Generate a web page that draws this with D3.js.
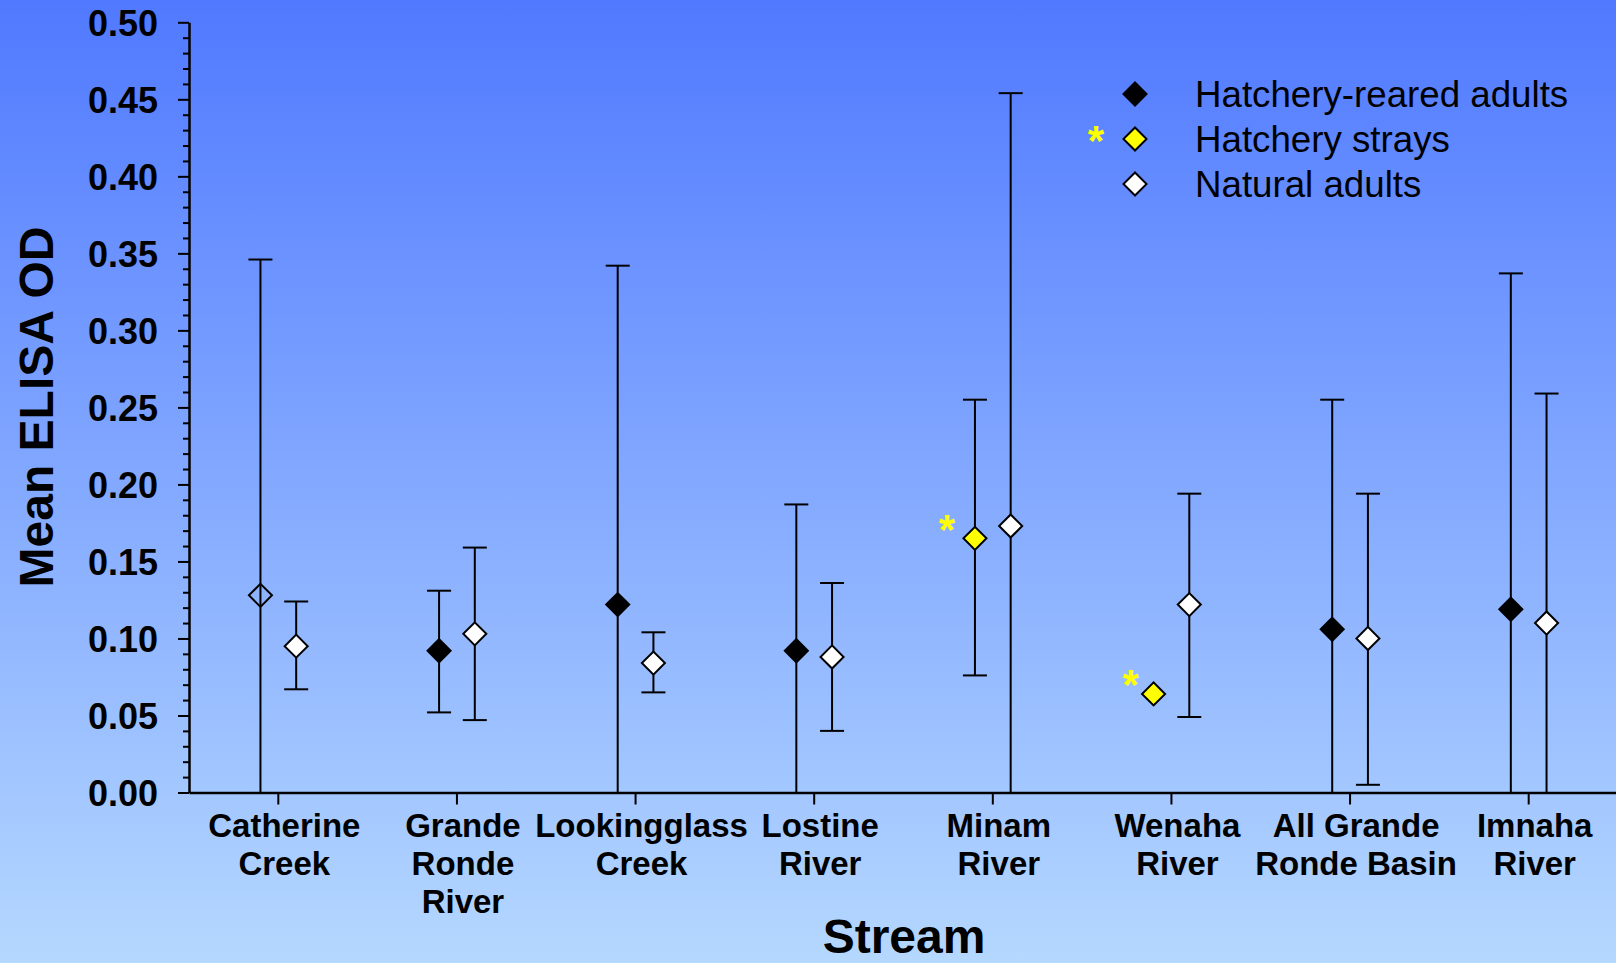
<!DOCTYPE html>
<html>
<head>
<meta charset="utf-8">
<script src="https://cdn.jsdelivr.net/npm/d3@7/dist/d3.min.js"></script>
<style>
  html, body { margin: 0; padding: 0; overflow: hidden; }
  svg { display: block; font-family: "Liberation Sans", Arial, Helvetica, sans-serif; }
</style>
</head>
<body>
<svg id="chart" width="1616" height="963"></svg>
<script>
// Streams sampled (axis categories, shown on two or three lines)
const categories = [
  "Catherine Creek", "Grande Ronde River", "Lookingglass Creek", "Lostine River",
  "Minam River", "Wenaha River", "All Grande Ronde Basin", "Imnaha River"
];
const categoryLines = [
  ["Catherine", "Creek"], ["Grande", "Ronde", "River"], ["Lookingglass", "Creek"],
  ["Lostine", "River"], ["Minam", "River"], ["Wenaha", "River"],
  ["All Grande", "Ronde Basin"], ["Imnaha", "River"]
];

// Hatchery-reared adults: mean ELISA OD with error-bar limits
const hatcheryMean = [0.128, 0.092, 0.122, 0.092, null, null, 0.106, 0.119];
const hatcheryLow  = [0.000, 0.052, 0.000, 0.000, null, null, 0.000, 0.000];
const hatcheryHigh = [0.346, 0.131, 0.342, 0.187, null, null, 0.255, 0.337];

// Hatchery strays (marked with an asterisk)
const strayMean = [null, null, null, null, 0.165, 0.064, null, null];
const strayLow  = [null, null, null, null, 0.076, null, null, null];
const strayHigh = [null, null, null, null, 0.255, null, null, null];

// Natural adults
const naturalMean = [0.095, 0.103, 0.084, 0.088, 0.173, 0.122, 0.100, 0.110];
const naturalLow  = [0.067, 0.047, 0.065, 0.040, 0.000, 0.049, 0.005, 0.000];
const naturalHigh = [0.124, 0.159, 0.104, 0.136, 0.454, 0.194, 0.194, 0.259];

const yMajorTicks = [0, 0.05, 0.10, 0.15, 0.20, 0.25, 0.30, 0.35, 0.40, 0.45, 0.50];
const legendLabels = ["Hatchery-reared adults", "Hatchery strays", "Natural adults"];

const svg = d3.select("#chart");
const W = 1616, H = 963;

// background gradient
const defs = svg.append("defs");
const grad = defs.append("linearGradient").attr("id", "bg")
  .attr("x1", 0).attr("y1", 0).attr("x2", 0).attr("y2", 1);
grad.append("stop").attr("offset", "0%").attr("stop-color", "#5079ff");
grad.append("stop").attr("offset", "100%").attr("stop-color", "#b5d8ff");
svg.append("rect").attr("width", W).attr("height", H).attr("fill", "url(#bg)");

const x = d3.scaleBand().domain(categories).range([189, 1618]).padding(0);
const y = d3.scaleLinear().domain([0, 0.5]).range([792.5, 22.3]);
const off = x.bandwidth() * 0.1;

// y axis: minor ticks every 0.01, labelled majors every 0.05
const minor = d3.range(0, 0.5001, 0.01).filter(v => Math.abs(v * 20 - Math.round(v * 20)) > 1e-6);
svg.append("g").attr("transform", "translate(189,0)")
  .call(d3.axisLeft(y).tickValues(minor).tickSize(6).tickFormat("").tickSizeOuter(0))
  .call(g => g.select(".domain").remove())
  .call(g => g.selectAll("line").attr("stroke", "#000").attr("stroke-width", 2));

svg.append("g").attr("transform", "translate(189,0)")
  .call(d3.axisLeft(y).tickValues(yMajorTicks).tickSize(11).tickPadding(20)
    .tickFormat(d3.format(".2f")).tickSizeOuter(0))
  .call(g => g.select(".domain").attr("stroke", "#000").attr("stroke-width", 2.5))
  .call(g => g.selectAll("line").attr("stroke", "#000").attr("stroke-width", 2))
  .call(g => g.selectAll("text").attr("fill", "#000").attr("font-size", 36)
    .attr("font-weight", "bold").attr("font-family", "Liberation Sans, Arial, sans-serif")
    .attr("dy", "0.36em"));

// x axis
svg.append("g").attr("transform", `translate(0,${y(0)})`)
  .call(d3.axisBottom(x).tickSize(12).tickSizeOuter(0).tickFormat(""))
  .call(g => g.select(".domain").attr("stroke", "#000").attr("stroke-width", 2.5))
  .call(g => g.selectAll("line").attr("stroke", "#000").attr("stroke-width", 2));

// category labels
const lab = svg.append("g").attr("font-size", 33).attr("font-weight", "bold")
  .attr("text-anchor", "middle").attr("fill", "#000");
categories.forEach((c, i) => {
  const cx = x(c) + x.bandwidth() / 2 + 6;
  const t = lab.append("text").attr("x", cx).attr("y", 837);
  categoryLines[i].forEach((line, k) => {
    t.append("tspan").attr("x", cx).attr("y", 837 + k * 38).text(line);
  });
});

// axis titles
svg.append("text").attr("x", 904).attr("y", 953).attr("text-anchor", "middle")
  .attr("font-size", 48).attr("font-weight", "bold").text("Stream");
svg.append("text").attr("transform", "translate(53,407) rotate(-90)")
  .attr("text-anchor", "middle").attr("font-size", 48).attr("font-weight", "bold")
  .text("Mean ELISA OD");

const diamond = d3.symbol().type(d3.symbolSquare).size(16.3 * 16.3);
const capHalf = 12;

function series(mean, low, high, dx, fill) {
  const g = svg.append("g");
  categories.forEach((c, i) => {
    if (mean[i] == null) return;
    const cx = x(c) + x.bandwidth() / 2 + dx;
    if (low[i] != null && high[i] != null) {
      g.append("line").attr("x1", cx).attr("x2", cx)
        .attr("y1", y(low[i])).attr("y2", y(high[i]))
        .attr("stroke", "#000").attr("stroke-width", 2);
      [low[i], high[i]].forEach(v => {
        if (v <= 0) return;
        g.append("line").attr("x1", cx - capHalf).attr("x2", cx + capHalf)
          .attr("y1", y(v)).attr("y2", y(v))
          .attr("stroke", "#000").attr("stroke-width", 2);
      });
    }
    g.append("path").attr("d", diamond)
      .attr("transform", `translate(${cx},${y(mean[i])}) rotate(45)`)
      .attr("fill", typeof fill === "function" ? fill(c) : fill)
      .attr("stroke", "#000").attr("stroke-width", 2);
  });
}

// the Catherine Creek hatchery marker is drawn unfilled
series(hatcheryMean, hatcheryLow, hatcheryHigh, -off,
  c => c === "Catherine Creek" ? "none" : "#000");
series(strayMean, strayLow, strayHigh, -off, "#ffff00");
series(naturalMean, naturalLow, naturalHigh, off, "#fff");

// asterisks flag the stray groups
function star(cx, cy) {
  svg.append("text").attr("x", cx).attr("y", cy + 0.58 * 42)
    .attr("text-anchor", "middle").attr("font-size", 42).attr("font-weight", "bold")
    .attr("fill", "#ffff00").text("*");
}
categories.forEach((c, i) => {
  if (strayMean[i] == null) return;
  const cx = x(c) + x.bandwidth() / 2 - off;
  star(cx - (strayLow[i] != null ? 28 : 23), y(strayMean[i]) - 19);
});

// legend
const legendFills = ["#000", "#ffff00", "#fff"];
const lg = svg.append("g");
legendLabels.forEach((t, i) => {
  const cy = 94 + i * 45;
  lg.append("path").attr("d", diamond)
    .attr("transform", `translate(1135,${cy}) rotate(45)`)
    .attr("fill", legendFills[i]).attr("stroke", "#000").attr("stroke-width", 2);
  lg.append("text").attr("x", 1195).attr("y", cy + 13)
    .attr("font-size", 36.7).attr("fill", "#000").text(t);
});
star(1096, 131);
</script>
</body>
</html>
